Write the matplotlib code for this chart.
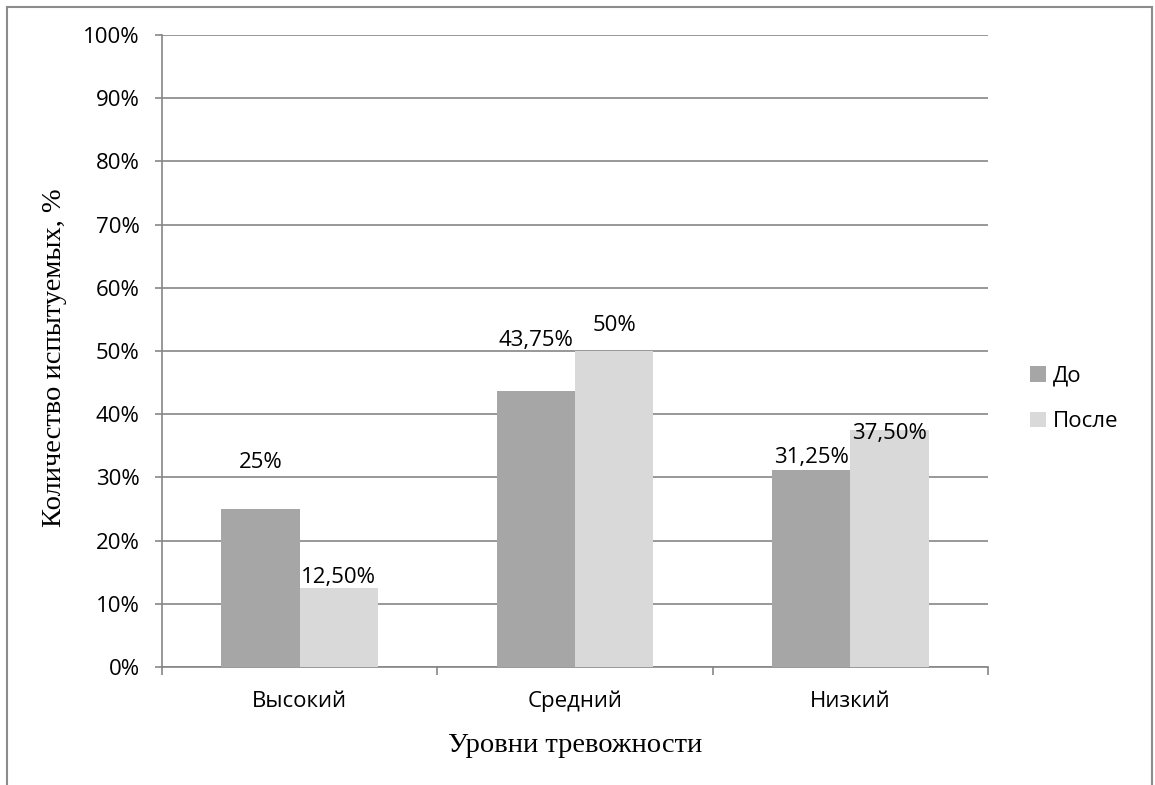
import numpy as np
import matplotlib.pyplot as plt
from matplotlib.lines import Line2D
from matplotlib.ticker import PercentFormatter

categories = ['Высокий', 'Средний', 'Низкий']
before = [25.0, 43.75, 31.25]
after = [12.5, 50.0, 37.5]
series_names = ['До', 'После']
before_text = ['25%', '43,75%', '31,25%']
after_text = ['12,50%', '50%', '37,50%']
# heights where the value labels sit
before_text_y = [32.3, 51.7, 33.2]
after_text_y = [14.1, 54.1, 37.0]

tick_font = 'Open Sans'
serif_font = 'Liberation Serif'
fs = 16

fig = plt.figure(figsize=(11.55, 7.85), dpi=100)
ax = fig.add_axes([162 / 1155, 1 - 667 / 785, 826 / 1155, 632 / 785])

x = np.arange(len(categories))
w = 0.284
ax.bar(x - w / 2, before, w, color='#a6a6a6', label=series_names[0], zorder=3)
ax.bar(x + w / 2, after, w, color='#d9d9d9', label=series_names[1], zorder=3)

for i in range(len(categories)):
    ax.text(x[i] - w / 2, before_text_y[i], before_text[i], ha='center', va='center',
            fontsize=fs, family=tick_font, zorder=4)
    ax.text(x[i] + w / 2, after_text_y[i], after_text[i], ha='center', va='center',
            fontsize=fs, family=tick_font, zorder=4)

ax.set_xlim(-0.5, len(categories) - 0.5)
ax.set_ylim(0, 100)
ax.set_yticks(np.arange(0, 101, 10))
ax.yaxis.set_major_formatter(PercentFormatter(decimals=0))
ax.grid(axis='y', color='#868686', linewidth=1.2, zorder=0)

# categories on minor ticks, boundaries on major ticks
ax.set_xticks(np.arange(-0.5, len(categories), 1.0))
ax.set_xticklabels([])
ax.set_xticks(x, minor=True)
ax.set_xticklabels(categories, minor=True)
ax.tick_params(axis='x', which='major', length=6, width=1.2, color='#868686', direction='out')
ax.tick_params(axis='x', which='minor', length=0, pad=17)
ax.tick_params(axis='y', length=5, width=1.2, color='#868686', direction='out', pad=11)
for lab in ax.get_xticklabels(minor=True) + ax.get_yticklabels():
    lab.set_fontfamily(tick_font)
    lab.set_fontsize(fs)

for side in ['top', 'right']:
    ax.spines[side].set_visible(False)
for side in ['left', 'bottom']:
    ax.spines[side].set_color('#868686')
    ax.spines[side].set_linewidth(1.2)

ax.set_xlabel('Уровни тревожности', family=serif_font, fontsize=20.5, labelpad=15)
ax.set_ylabel('Количество испытуемых, %', family=serif_font, fontsize=20.5)
ax.yaxis.set_label_coords(-0.115, 0.49)

ax.legend(loc='center left', bbox_to_anchor=(1.027, 0.424), frameon=False,
          prop={'family': tick_font, 'size': fs}, handlelength=0.7,
          handleheight=0.7, handletextpad=0.3, labelspacing=1.1)

# outer frame of the chart
c = '#8c8c8c'
fig.add_artist(Line2D([7 / 1155, 7 / 1155], [0, 1 - 7 / 785], color=c, lw=1.5))
fig.add_artist(Line2D([7 / 1155, 1152 / 1155], [1 - 7 / 785, 1 - 7 / 785], color=c, lw=1.5))
fig.add_artist(Line2D([1152 / 1155, 1152 / 1155], [0, 1 - 7 / 785], color=c, lw=1.5))

fig.savefig('out.png', dpi=100, facecolor='white')
